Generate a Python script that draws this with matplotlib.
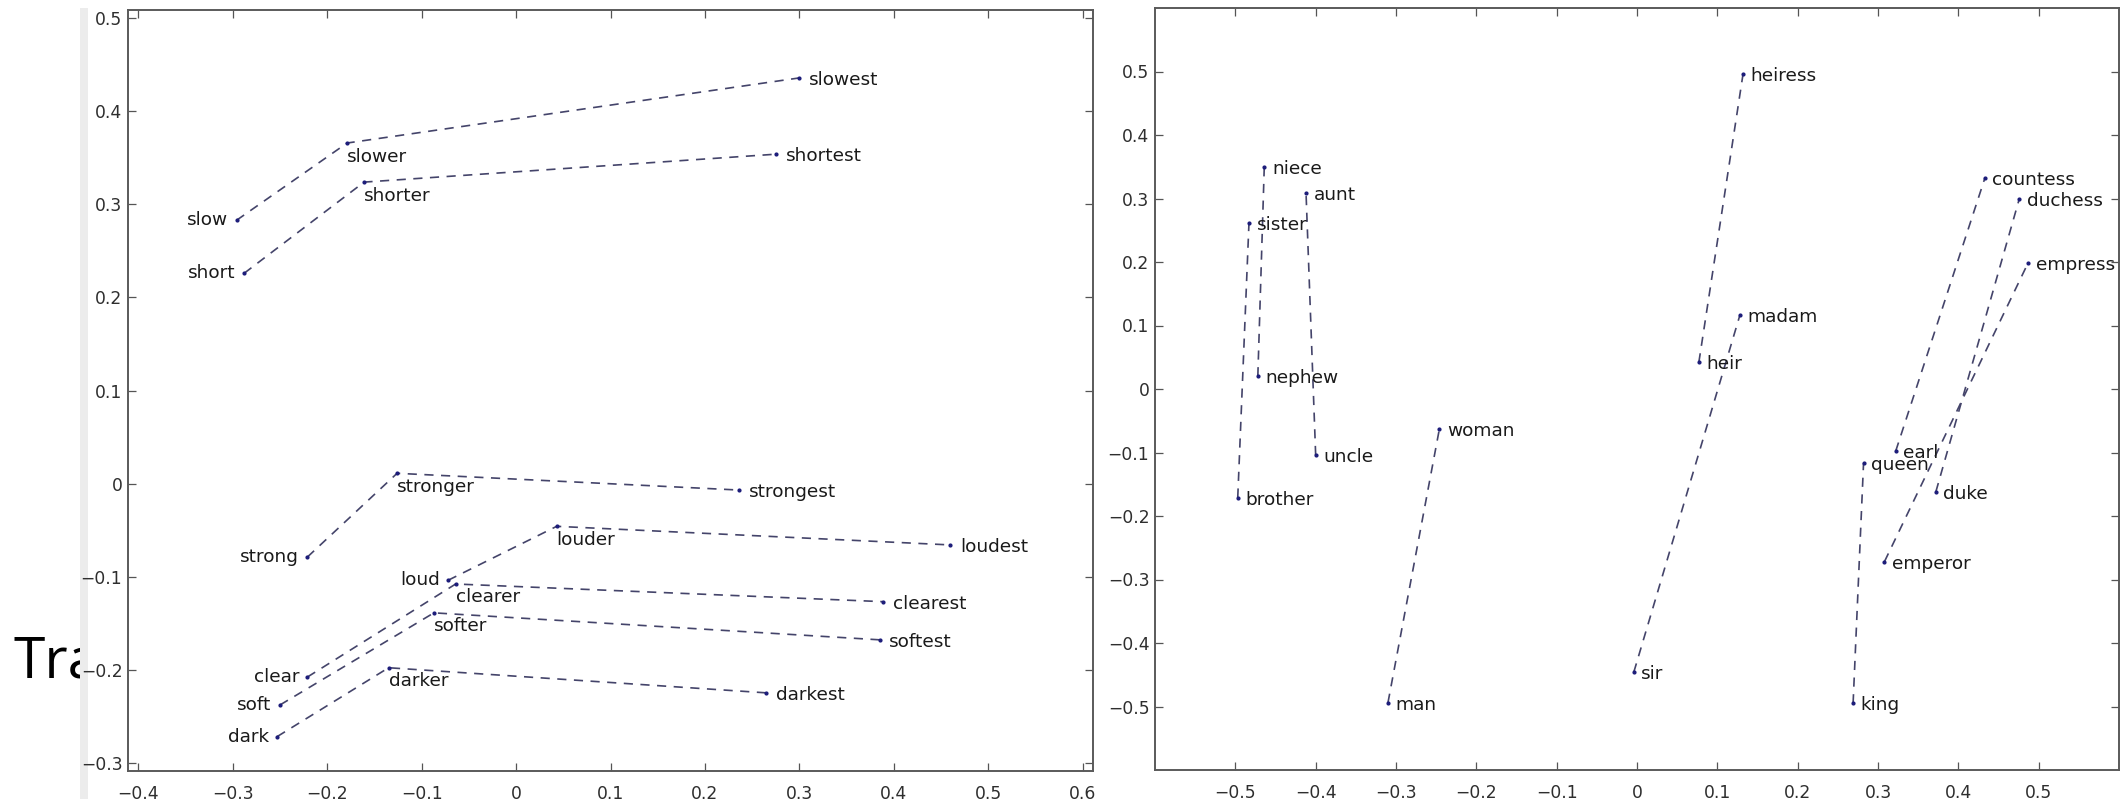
import matplotlib
matplotlib.use('Agg')
import matplotlib.pyplot as plt
from matplotlib.patches import Rectangle
from matplotlib.ticker import FuncFormatter

# ---- data: left panel (adjective, comparative, superlative) ----
adj_words = [['slow', 'slower', 'slowest'],
             ['short', 'shorter', 'shortest'],
             ['strong', 'stronger', 'strongest'],
             ['loud', 'louder', 'loudest'],
             ['clear', 'clearer', 'clearest'],
             ['soft', 'softer', 'softest'],
             ['dark', 'darker', 'darkest']]
adj_x = [[-0.296, -0.179, 0.300],
         [-0.288, -0.161, 0.275],
         [-0.221, -0.126, 0.236],
         [-0.072, 0.043, 0.460],
         [-0.221, -0.064, 0.389],
         [-0.250, -0.087, 0.385],
         [-0.253, -0.135, 0.265]]
adj_y = [[0.283, 0.366, 0.436],
         [0.226, 0.324, 0.354],
         [-0.079, 0.011, -0.007],
         [-0.104, -0.046, -0.066],
         [-0.208, -0.108, -0.127],
         [-0.238, -0.139, -0.168],
         [-0.272, -0.198, -0.225]]

# ---- data: right panel (male -> female) ----
male_words = ['brother', 'nephew', 'uncle', 'man', 'sir', 'heir', 'king', 'earl', 'duke', 'emperor']
male_x = [-0.497, -0.472, -0.400, -0.310, -0.004, 0.077, 0.269, 0.322, 0.372, 0.308]
male_y = [-0.171, 0.020, -0.104, -0.494, -0.446, 0.042, -0.495, -0.098, -0.162, -0.272]
female_words = ['sister', 'niece', 'aunt', 'woman', 'madam', 'heiress', 'queen', 'countess', 'duchess', 'empress']
female_x = [-0.483, -0.464, -0.412, -0.246, 0.128, 0.132, 0.282, 0.433, 0.476, 0.487]
female_y = [0.262, 0.349, 0.309, -0.063, 0.116, 0.496, -0.117, 0.332, 0.300, 0.199]

left_xticks = [-0.4, -0.3, -0.2, -0.1, 0, 0.1, 0.2, 0.3, 0.4, 0.5, 0.6]
left_yticks = [-0.3, -0.2, -0.1, 0, 0.1, 0.2, 0.3, 0.4, 0.5]
right_ticks = [-0.5, -0.4, -0.3, -0.2, -0.1, 0, 0.1, 0.2, 0.3, 0.4, 0.5]

LINE_COLOR = '#44446a'
DOT_COLOR = '#1c1c7a'
TEXT_COLOR = '#1a1a1a'
LABEL_SIZE = 13.3


def fmt(v, pos):
    if abs(v) < 1e-9:
        return '0'
    return ('%.1f' % v).replace('-', '\u2212')


def style_axes(ax):
    ax.set_facecolor('white')
    ax.tick_params(direction='in', length=6, width=0.9, color='#555555',
                   top=True, right=True, labelsize=12.3, labelcolor='#2e2e2e')
    ax.tick_params(axis='x', pad=10)
    ax.tick_params(axis='y', pad=4)
    ax.xaxis.set_major_formatter(FuncFormatter(fmt))
    ax.yaxis.set_major_formatter(FuncFormatter(fmt))
    for s in ax.spines.values():
        s.set_color('#5a5a5a')
        s.set_linewidth(1.4)


fig = plt.figure(figsize=(21.28, 7.99), dpi=100)
fig.patch.set_facecolor('white')

# slide text partly hidden behind the figure image
fig.text(13 / 2128, 1 - 677 / 799, 'Tra', family='Open Sans', fontsize=41,
         color='black', va='baseline', ha='left', zorder=3)
fig.patches.append(Rectangle((80 / 2128, 0), 1 - 80 / 2128, 1 - 8 / 799,
                             transform=fig.transFigure, facecolor='white',
                             edgecolor='none', zorder=4))
fig.patches.append(Rectangle((80 / 2128, 0), 8 / 2128, 1 - 8 / 799,
                             transform=fig.transFigure, facecolor='#ececec',
                             edgecolor='none', zorder=4))

# ---- left panel ----
ax1 = fig.add_axes([128 / 2128, 28 / 799, 965 / 2128, 761 / 799], zorder=6)
style_axes(ax1)
for words, xs, ys in zip(adj_words, adj_x, adj_y):
    ax1.plot(xs, ys, color=LINE_COLOR, lw=1.2, dashes=(5.5, 4.5))
    ax1.plot(xs, ys, ls='none', marker='.', ms=4, color=DOT_COLOR)
    ax1.annotate(words[0], (xs[0], ys[0]), xytext=(-6, 0), textcoords='offset points',
                 ha='right', va='center', fontsize=LABEL_SIZE, color=TEXT_COLOR)
    ax1.annotate(words[1], (xs[1], ys[1]), xytext=(0, -9.7), textcoords='offset points',
                 ha='left', va='center', fontsize=LABEL_SIZE, color=TEXT_COLOR)
    ax1.annotate(words[2], (xs[2], ys[2]), xytext=(7, -1.5), textcoords='offset points',
                 ha='left', va='center', fontsize=LABEL_SIZE, color=TEXT_COLOR)
ax1.set_xlim(-0.411, 0.611)
ax1.set_ylim(-0.309, 0.509)
ax1.set_xticks(left_xticks)
ax1.set_yticks(left_yticks)

# ---- right panel ----
ax2 = fig.add_axes([1155 / 2128, 29 / 799, 964 / 2128, 762 / 799], zorder=6)
style_axes(ax2)
for i in range(len(male_words)):
    xs = [male_x[i], female_x[i]]
    ys = [male_y[i], female_y[i]]
    ax2.plot(xs, ys, color=LINE_COLOR, lw=1.2, dashes=(5.5, 4.5))
    ax2.plot(xs, ys, ls='none', marker='.', ms=4, color=DOT_COLOR)
    for w, x, y in [(male_words[i], xs[0], ys[0]), (female_words[i], xs[1], ys[1])]:
        ax2.annotate(w, (x, y), xytext=(5.5, -1.5), textcoords='offset points',
                     ha='left', va='center', fontsize=LABEL_SIZE, color=TEXT_COLOR)
ax2.set_xlim(-0.6, 0.6)
ax2.set_ylim(-0.6, 0.6)
ax2.set_xticks(right_ticks)
ax2.set_yticks(right_ticks)

fig.savefig('out.png', dpi=100, facecolor='white')
